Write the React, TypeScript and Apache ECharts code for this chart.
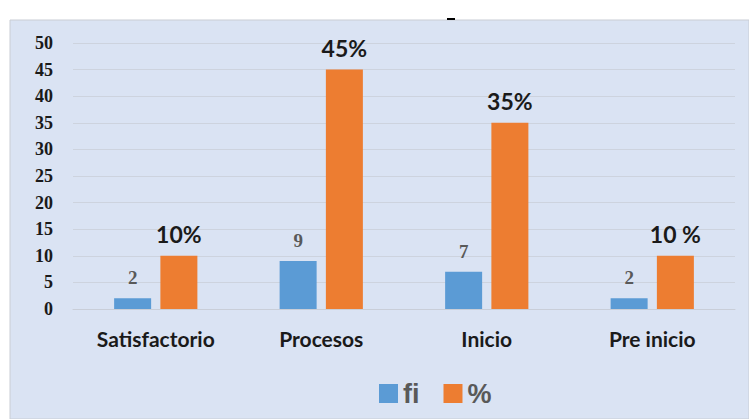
import React, { useEffect, useRef } from "react";
import * as echarts from "echarts";

const categories = ["Satisfactorio", "Procesos", "Inicio", "Pre inicio"];
const fiValues = [2, 9, 7, 2];
const pctValues = [10, 45, 35, 10];
const pctLabels = ["10%", "45%", "35%", "10 %"];
const seriesNames = ["fi", "%"];

export default function App() {
  const ref = useRef<HTMLDivElement>(null);
  useEffect(() => {
    const chart = echarts.init(ref.current!, null, { renderer: "svg" });
    chart.setOption({
      animation: false,
      backgroundColor: "#ffffff",
      graphic: [
        {
          type: "rect",
          z: -10,
          shape: { x: 10, y: 20, width: 739, height: 399 },
          style: { fill: "#dae3f3", stroke: "#c9cdd4", lineWidth: 1 },
        },
        {
          type: "rect",
          z: 10,
          shape: { x: 447, y: 18, width: 8, height: 2 },
          style: { fill: "#000000" },
        },
      ],
      grid: { left: 73, right: 14, top: 43, bottom: 110, containLabel: false },
      legend: {
        top: 375,
        left: 374,
        itemWidth: 19,
        itemHeight: 19,
        itemGap: 24,
        icon: "rect",
        textStyle: { fontSize: 27, color: "#595959", fontFamily: "Liberation Sans", fontWeight: "bold" },
        data: seriesNames,
      },
      xAxis: {
        type: "category",
        data: categories,
        axisTick: { show: false },
        axisLine: { lineStyle: { color: "#c9ced8" } },
        axisLabel: {
          margin: 19,
          fontSize: 21,
          fontWeight: "bold",
          color: "#1a1a1a",
          fontFamily: "Lato",
        },
      },
      yAxis: {
        type: "value",
        min: 0,
        max: 50,
        interval: 5,
        axisLine: { show: false },
        axisTick: { show: false },
        splitLine: { lineStyle: { color: "#cdd3de" } },
        axisLabel: {
          margin: 20,
          fontSize: 18,
          fontWeight: "bold",
          color: "#1a1a1a",
          fontFamily: "Liberation Serif",
        },
      },
      series: [
        {
          name: seriesNames[0],
          type: "bar",
          data: fiValues,
          barWidth: 37,
          barGap: "25%",
          itemStyle: { color: "#5b9bd5" },
          label: {
            show: true,
            position: "top",
            distance: 11,
            fontSize: 19,
            fontWeight: "bold",
            color: "#595959",
            fontFamily: "Liberation Serif",
          },
        },
        {
          name: seriesNames[1],
          type: "bar",
          data: pctValues,
          barWidth: 37,
          itemStyle: { color: "#ed7d31" },
          label: {
            show: true,
            position: "top",
            distance: 10,
            fontSize: 23,
            fontWeight: "bold",
            color: "#1a1a1a",
            fontFamily: "Lato",
            formatter: (p: any) => pctLabels[p.dataIndex],
          },
        },
      ],
    });
    return () => chart.dispose();
  }, []);
  return (
    <div
      ref={ref}
      style={{ position: "absolute", left: 0, top: 0, width: 749, height: 419 }}
    />
  );
}
